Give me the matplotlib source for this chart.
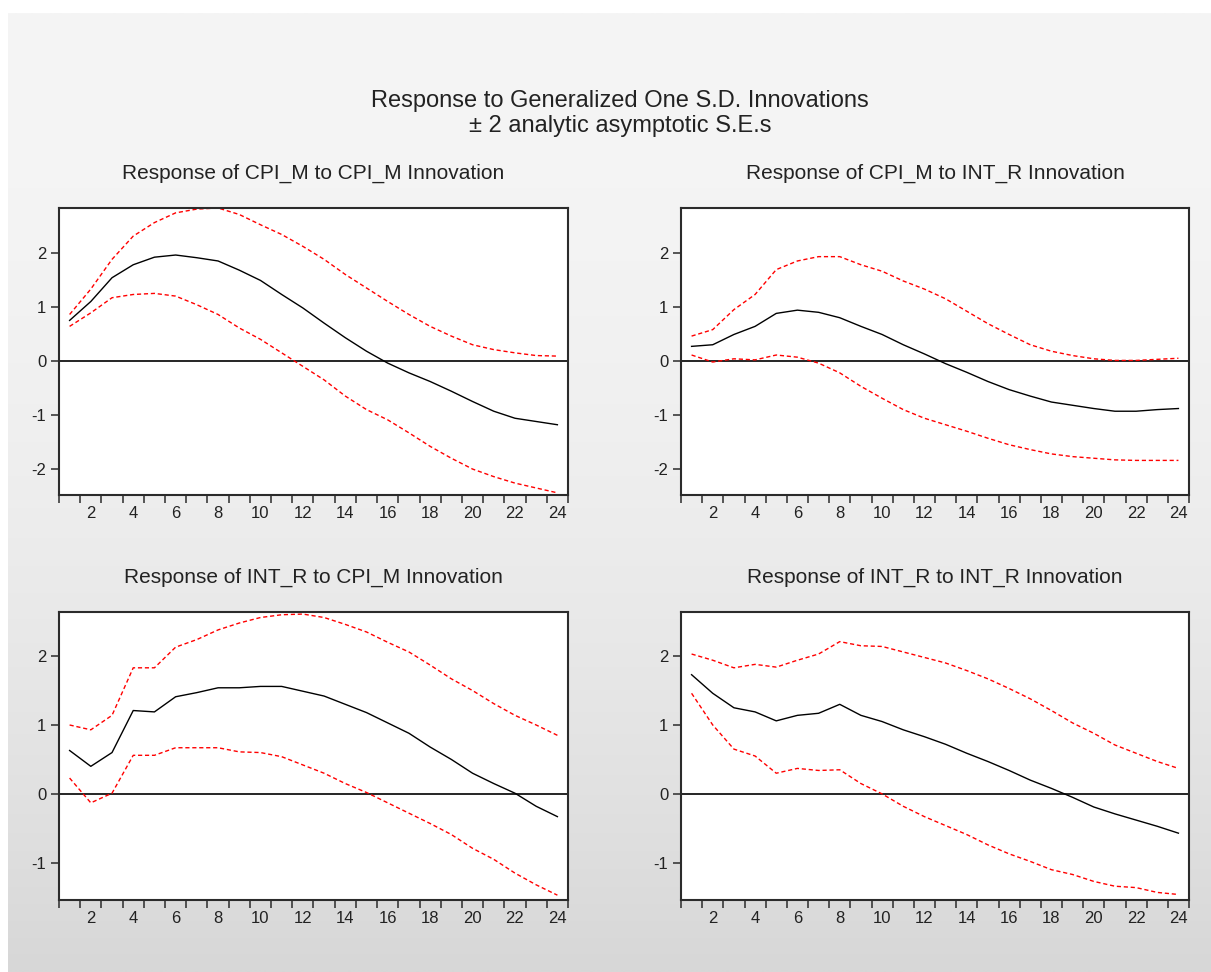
import numpy as np
import matplotlib
matplotlib.use("Agg")
import matplotlib.pyplot as plt

plt.rcParams['font.family'] = ['Liberation Sans', 'DejaVu Sans']
plt.rcParams['axes.unicode_minus'] = False

periods = np.arange(1, 25)

# Response of CPI_M to CPI_M
cpi_cpi = [0.75, 1.10, 1.54, 1.78, 1.92, 1.96, 1.91, 1.85, 1.68, 1.49, 1.23, 0.98,
           0.70, 0.43, 0.18, -0.04, -0.22, -0.38, -0.56, -0.75, -0.93, -1.06, -1.12, -1.18]
cpi_cpi_hi = [0.86, 1.33, 1.88, 2.31, 2.56, 2.74, 2.81, 2.83, 2.71, 2.52, 2.34, 2.12,
              1.88, 1.60, 1.35, 1.10, 0.86, 0.64, 0.46, 0.30, 0.21, 0.15, 0.10, 0.09]
cpi_cpi_lo = [0.64, 0.89, 1.17, 1.23, 1.25, 1.20, 1.04, 0.86, 0.61, 0.40, 0.15, -0.10,
              -0.35, -0.65, -0.90, -1.09, -1.33, -1.58, -1.80, -2.00, -2.14, -2.26, -2.35, -2.44]

# Response of CPI_M to INT_R
cpi_int = [0.27, 0.30, 0.49, 0.64, 0.88, 0.94, 0.90, 0.80, 0.64, 0.49, 0.30, 0.13,
           -0.05, -0.21, -0.38, -0.53, -0.65, -0.76, -0.82, -0.88, -0.93, -0.93, -0.90, -0.88]
cpi_int_hi = [0.46, 0.58, 0.95, 1.23, 1.69, 1.85, 1.93, 1.93, 1.78, 1.66, 1.48, 1.33,
              1.15, 0.92, 0.69, 0.49, 0.30, 0.18, 0.10, 0.04, 0.01, 0.01, 0.03, 0.05]
cpi_int_lo = [0.11, -0.02, 0.04, 0.02, 0.11, 0.07, -0.04, -0.22, -0.47, -0.69, -0.90, -1.06,
              -1.18, -1.30, -1.43, -1.55, -1.64, -1.72, -1.77, -1.80, -1.83, -1.84, -1.84, -1.84]

# Response of INT_R to CPI_M
int_cpi = [0.63, 0.40, 0.60, 1.21, 1.19, 1.41, 1.47, 1.54, 1.54, 1.56, 1.56, 1.49,
           1.42, 1.30, 1.18, 1.03, 0.88, 0.68, 0.50, 0.30, 0.15, 0.01, -0.18, -0.33]
int_cpi_hi = [1.00, 0.93, 1.14, 1.83, 1.83, 2.13, 2.24, 2.38, 2.48, 2.56, 2.60, 2.61,
              2.56, 2.46, 2.35, 2.20, 2.06, 1.87, 1.67, 1.50, 1.31, 1.14, 1.00, 0.85]
int_cpi_lo = [0.23, -0.13, 0.01, 0.56, 0.56, 0.67, 0.67, 0.67, 0.61, 0.60, 0.54, 0.42,
              0.30, 0.15, 0.02, -0.13, -0.28, -0.43, -0.59, -0.79, -0.95, -1.15, -1.32, -1.47]

# Response of INT_R to INT_R
int_int = [1.73, 1.46, 1.25, 1.19, 1.06, 1.14, 1.17, 1.30, 1.14, 1.05, 0.93, 0.83,
           0.72, 0.59, 0.47, 0.34, 0.20, 0.08, -0.05, -0.19, -0.29, -0.38, -0.47, -0.57]
int_int_hi = [2.03, 1.94, 1.83, 1.88, 1.84, 1.94, 2.03, 2.21, 2.15, 2.14, 2.06, 1.98,
              1.90, 1.79, 1.67, 1.53, 1.38, 1.21, 1.03, 0.88, 0.71, 0.59, 0.47, 0.37]
int_int_lo = [1.46, 1.00, 0.65, 0.55, 0.30, 0.37, 0.34, 0.35, 0.15, 0.00, -0.18, -0.33,
              -0.46, -0.59, -0.74, -0.87, -0.98, -1.10, -1.17, -1.27, -1.34, -1.36, -1.43, -1.46]

panel_titles = ["Response of CPI_M to CPI_M Innovation",
                "Response of CPI_M to INT_R Innovation",
                "Response of INT_R to CPI_M Innovation",
                "Response of INT_R to INT_R Innovation"]
title_lines = ["Response to Generalized One S.D. Innovations",
               "\u00b1 2 analytic asymptotic S.E.s"]

W, H = 1211, 972
fig = plt.figure(figsize=(W / 100, H / 100), dpi=100)
fig.patch.set_facecolor("white")

# gradient backdrop (light at top, darker towards the bottom)
bg = fig.add_axes([8 / W, 0, 1 - 8 / W, 1 - 13 / H], zorder=-10)
t = np.linspace(0, 1, 256)[:, None]
shade = 245 - 30 * t ** 2
img = np.repeat(shade, 2, axis=1) / 255.0
bg.imshow(np.dstack([img, img, img]), aspect="auto", extent=[0, 1, 1, 0],
          interpolation="bilinear")
bg.set_axis_off()


def px_rect(x0, y0, x1, y1):
    return [x0 / W, 1 - y1 / H, (x1 - x0) / W, (y1 - y0) / H]


rects = [px_rect(59, 208, 568, 495), px_rect(681, 208, 1189, 495),
         px_rect(59, 612, 568, 900), px_rect(681, 612, 1189, 900)]
ylims = [(-2.48, 2.83), (-2.48, 2.83), (-1.54, 2.64), (-1.54, 2.64)]
yticks = [[-2, -1, 0, 1, 2], [-2, -1, 0, 1, 2], [-1, 0, 1, 2], [-1, 0, 1, 2]]
series = [(cpi_cpi, cpi_cpi_hi, cpi_cpi_lo), (cpi_int, cpi_int_hi, cpi_int_lo),
          (int_cpi, int_cpi_hi, int_cpi_lo), (int_int, int_int_hi, int_int_lo)]

frame_col = "#2b2b2b"
for rect, ylim, yt, (mid, hi, lo), title in zip(rects, ylims, yticks, series, panel_titles):
    ax = fig.add_axes(rect)
    ax.set_facecolor("white")
    ax.axhline(0, color="black", lw=1.2, zorder=1)
    ax.plot(periods, hi, color="#ff0000", lw=1.0, ls=(0, (3, 2)), zorder=2)
    ax.plot(periods, lo, color="#ff0000", lw=1.0, ls=(0, (3, 2)), zorder=2)
    ax.plot(periods, mid, color="black", lw=1.0, zorder=3)
    ax.set_xlim(0.5, 24.5)
    ax.set_ylim(*ylim)
    ax.set_xticks(np.arange(2, 25, 2))
    ax.set_xticks(np.arange(0.5, 24.6, 1), minor=True)
    ax.tick_params(axis="x", which="major", length=0, pad=8, labelsize=12,
                   labelcolor="#222222")
    ax.tick_params(axis="x", which="minor", length=6, width=1.1, direction="out",
                   color=frame_col)
    ax.set_yticks(yt)
    ax.tick_params(axis="y", length=6, width=1.1, direction="out", pad=3,
                   labelsize=12, color=frame_col, labelcolor="#222222")
    for s in ax.spines.values():
        s.set_linewidth(1.5)
        s.set_color(frame_col)
    ax.set_title(title, fontsize=15, pad=21, color="#222222")

fig.text(620 / W, 1 - 101 / H, title_lines[0], ha="center", va="center",
         fontsize=17, color="#222222")
fig.text(620 / W, 1 - 126 / H, title_lines[1], ha="center", va="center",
         fontsize=17, color="#222222")

fig.savefig("out.png", dpi=100)
